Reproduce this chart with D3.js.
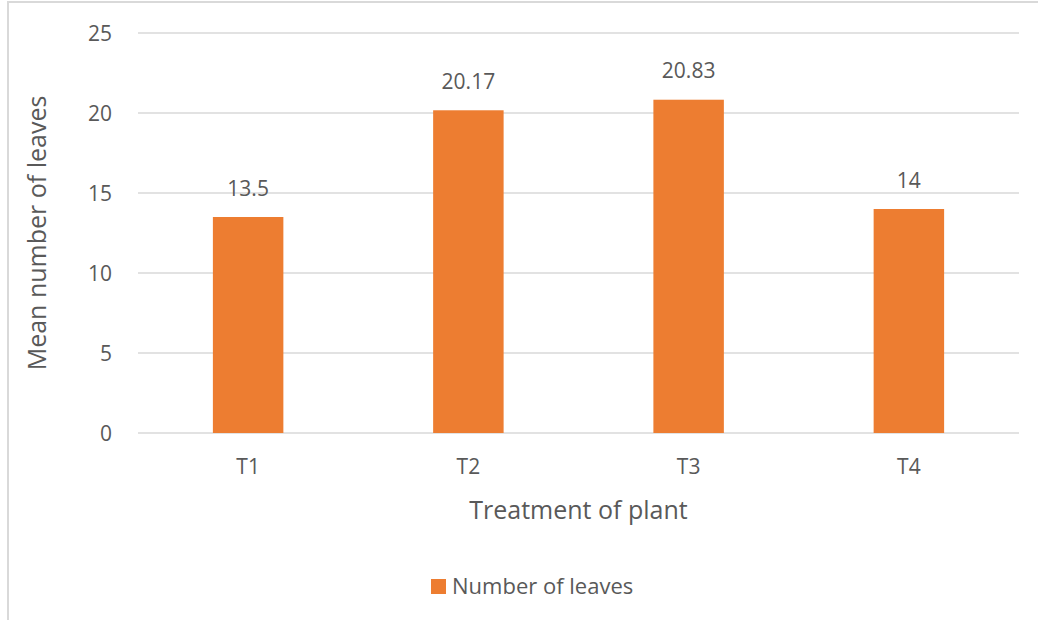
<!DOCTYPE html>
<html>
<head>
<meta charset="utf-8">
<script src="https://cdn.jsdelivr.net/npm/d3@7"></script>
<style>
  html, body { margin: 0; padding: 0; background: #fff; }
  svg { display: block; font-family: "Open Sans", Lato, sans-serif; }
</style>
</head>
<body>
<svg id="chart" width="1038" height="620"></svg>
<script>
// Mean number of leaves per plant treatment
const categories = ["T1", "T2", "T3", "T4"];
const leaves = [13.5, 20.17, 20.83, 14];
const yTicks = [0, 5, 10, 15, 20, 25];
const seriesName = "Number of leaves";

const svg = d3.select("#chart");
const W = 1038, H = 620;
const margin = { left: 138, right: 19, top: 33, bottom: 187 };
const textColor = "#595959";
const gridColor = "#d9d9d9";
const barColor = "#ED7D31";
const font = "'Open Sans', Lato, sans-serif";

// chart frame
svg.append("path")
  .attr("d", `M8,${H} L8,2 L${W},2`)
  .attr("fill", "none")
  .attr("stroke", gridColor)
  .attr("stroke-width", 2);

const x = d3.scaleBand()
  .domain(categories)
  .range([margin.left, W - margin.right])
  .paddingInner(0.68)
  .paddingOuter(0.34);

const y = d3.scaleLinear()
  .domain([0, 25])
  .range([H - margin.bottom, margin.top]);

// gridlines
svg.append("g")
  .selectAll("line")
  .data(yTicks)
  .join("line")
  .attr("x1", margin.left)
  .attr("x2", W - margin.right)
  .attr("y1", d => y(d))
  .attr("y2", d => y(d))
  .attr("stroke", gridColor)
  .attr("stroke-width", 1.5);

// y tick labels
const yAxis = svg.append("g")
  .attr("transform", `translate(${margin.left - 26},0)`)
  .call(d3.axisLeft(y).tickValues(yTicks).tickSize(0).tickPadding(0));
yAxis.select(".domain").remove();
yAxis.selectAll("text")
  .attr("fill", textColor)
  .attr("dy", "0.36em")
  .style("font-size", "21px")
  .style("font-family", font);

// x tick labels
const xAxis = svg.append("g")
  .attr("transform", `translate(0,${y(0)})`)
  .call(d3.axisBottom(x).tickSize(0).tickPadding(0));
xAxis.select(".domain").remove();
xAxis.selectAll("text")
  .attr("fill", textColor)
  .attr("y", 33)
  .attr("dy", "0.36em")
  .style("font-size", "21px")
  .style("font-family", font);

// bars
const rows = categories.map((c, i) => ({ c, v: leaves[i] }));
svg.append("g")
  .selectAll("rect")
  .data(rows)
  .join("rect")
  .attr("x", d => x(d.c))
  .attr("width", x.bandwidth())
  .attr("y", d => y(d.v))
  .attr("height", d => y(0) - y(d.v))
  .attr("fill", barColor);

// value labels
svg.append("g")
  .selectAll("text")
  .data(rows)
  .join("text")
  .attr("x", d => x(d.c) + x.bandwidth() / 2)
  .attr("y", d => y(d.v) - 29)
  .attr("dy", "0.36em")
  .attr("text-anchor", "middle")
  .attr("fill", textColor)
  .style("font-size", "21px")
  .text(d => d.v);

// axis titles
svg.append("text")
  .attr("x", (margin.left + W - margin.right) / 2)
  .attr("y", 510)
  .attr("dy", "0.36em")
  .attr("text-anchor", "middle")
  .attr("fill", textColor)
  .style("font-size", "25px")
  .text("Treatment of plant");

svg.append("text")
  .attr("transform", `translate(37,${y(12.5)}) rotate(-90)`)
  .attr("dy", "0.36em")
  .attr("text-anchor", "middle")
  .attr("fill", textColor)
  .style("font-size", "25px")
  .text("Mean number of leaves");

// legend
const legend = svg.append("g").attr("transform", "translate(431,579)");
legend.append("rect")
  .attr("width", 15).attr("height", 15)
  .attr("fill", barColor);
legend.append("text")
  .attr("x", 21).attr("y", 7.5)
  .attr("dy", "0.36em")
  .attr("fill", textColor)
  .style("font-size", "22px")
  .text(seriesName);
</script>
</body>
</html>
